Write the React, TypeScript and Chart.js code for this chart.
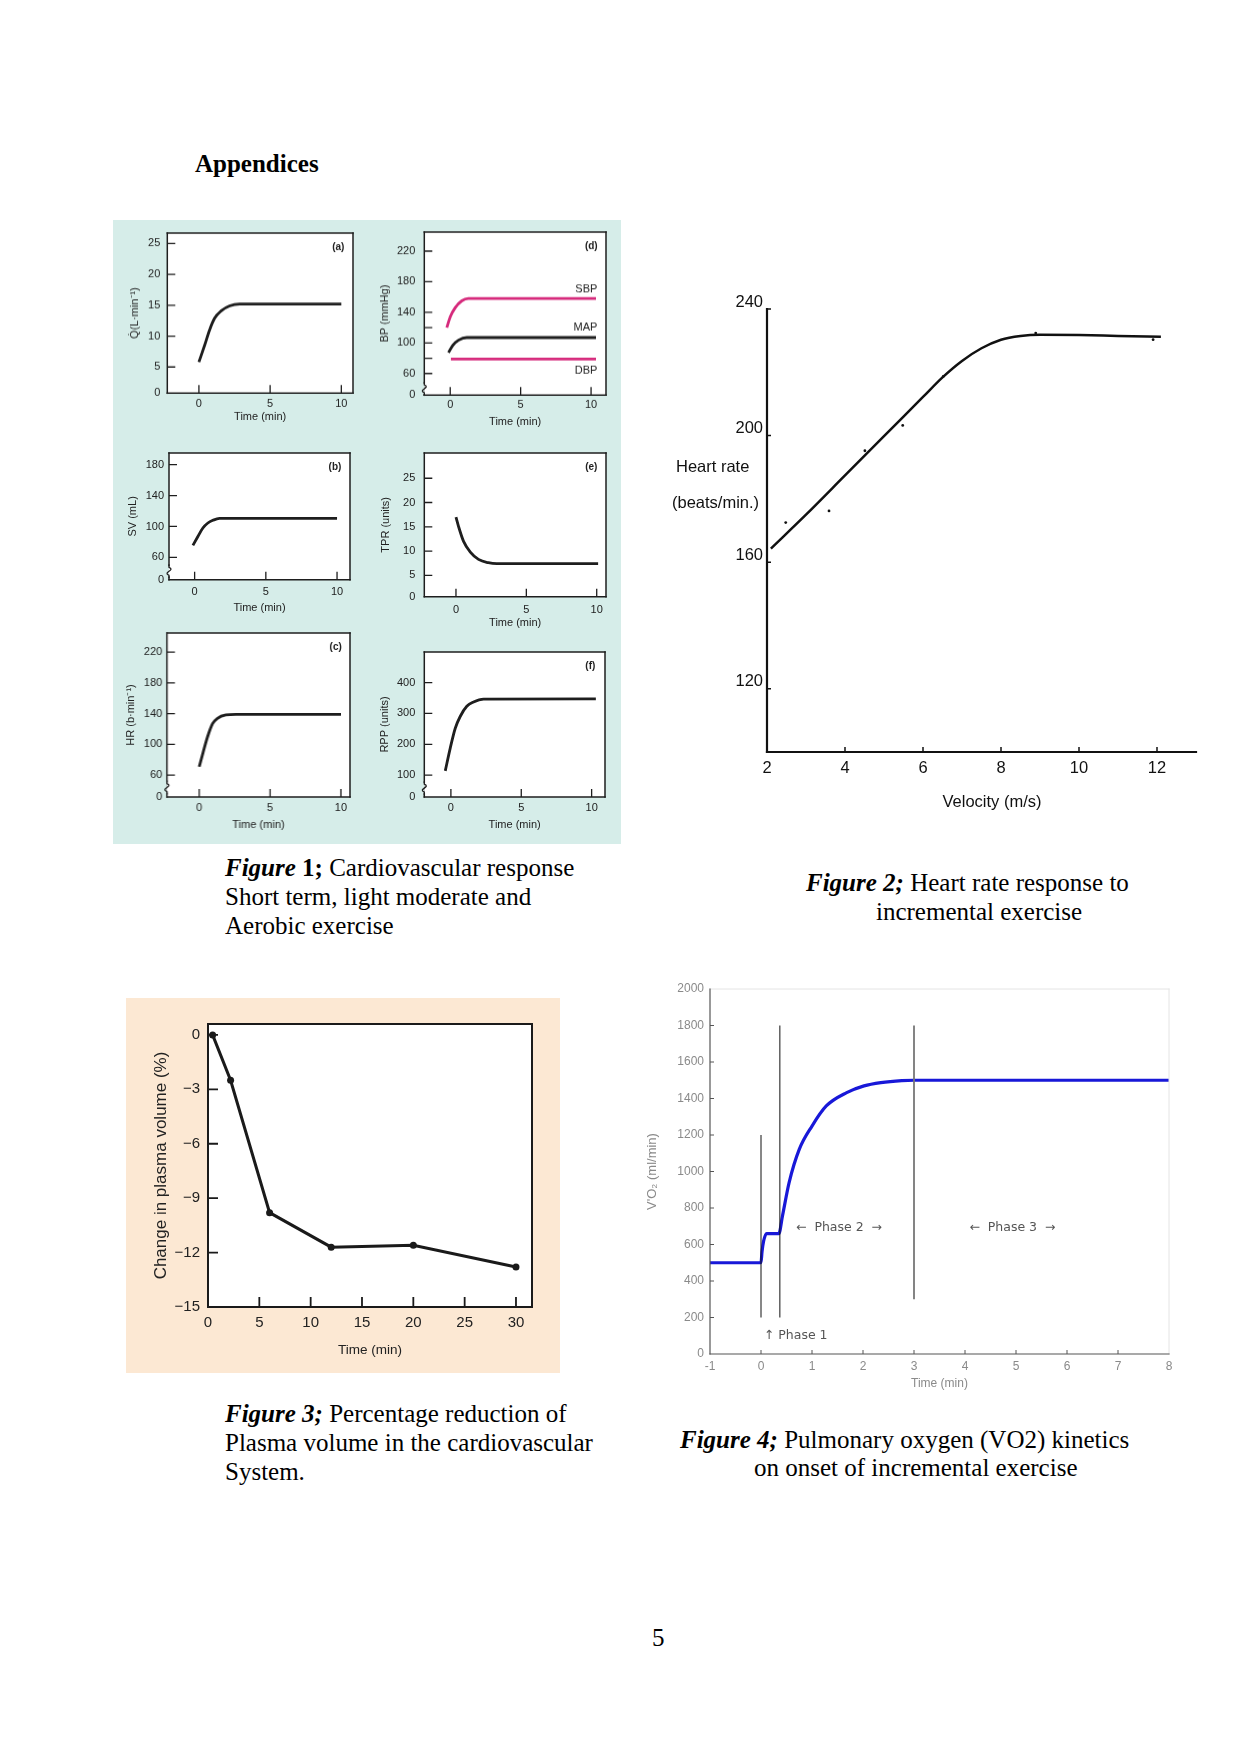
import React, { useEffect, useRef } from "react";
import { Chart, registerables } from "chart.js";
Chart.register(...registerables);

// ================= DATA =================
// Figure 1 (a) cardiac output
const timeA = [0, 0.4, 0.75, 1.1, 1.57, 2.15, 2.86, 10];
const cardiacOutput = [5.8, 8.5, 11, 12.9, 14.1, 14.9, 15.2, 15.2];
// Figure 1 (b) stroke volume
const timeB = [-0.12, 0.23, 0.58, 0.93, 1.28, 1.75, 10];
const strokeVolume = [75.5, 87, 98, 104.5, 108, 110.5, 110.5];
// Figure 1 (c) heart rate
const timeC = [0, 0.28, 0.59, 0.94, 1.29, 1.88, 2.6, 10];
const heartRate = [71, 90, 110, 127, 134, 138.3, 139, 139];
// Figure 1 (d) blood pressure
const timeSBP = [-0.24, 0, 0.35, 0.82, 1.29, 10.35];
const systolicBP = [120, 134, 146, 155, 158, 158];
const timeMAP = [-0.12, 0.19, 0.59, 1.18, 10.35];
const meanAP = [87.4, 97, 103.5, 107, 107];
const timeDBP = [0.05, 10.35];
const diastolicBP = [79, 79];
// Figure 1 (e) total peripheral resistance
const timeE = [0, 0.19, 0.54, 1.02, 1.6, 2.3, 2.9, 10.1];
const peripheralResistance = [17, 15, 12, 9.8, 8.3, 7.6, 7.4, 7.4];
// Figure 1 (f) rate pressure product
const timeF = [-0.4, -0.05, 0.31, 0.66, 1.13, 1.61, 2.32, 10.3];
const ratePressureProduct = [114, 187, 252, 290, 323, 337, 346, 347];

const fig1TimeTicks = [0, 5, 10];
const fig1TimeLabels = ["0", "5", "10"];
const ticksA = [0.76, 5, 10, 15, 20, 25];
const labelsA = ["0", "5", "10", "15", "20", "25"];
const ticksB = [31.1, 60, 100, 140, 180];
const labelsB = ["0", "60", "100", "140", "180"];
const ticksC = [31.7, 60, 100, 140, 180, 220];
const labelsC = ["0", "60", "100", "140", "180", "220"];
const ticksD = [31.7, 60, 100, 140, 180, 220];
const labelsD = ["0", "60", "100", "140", "180", "220"];
const marksD = [60, 80, 100, 120, 140, 180, 220];
const ticksE = [0.6, 5, 10, 15, 20, 25];
const labelsE = ["0", "5", "10", "15", "20", "25"];
const ticksF = [29.3, 100, 200, 300, 400];
const labelsF = ["0", "100", "200", "300", "400"];

// Figure 2 heart rate vs velocity
const velocity = [2.1, 3, 4, 5, 6, 6.5, 7, 7.5, 8, 8.5, 9, 10, 11, 12.1];
const heartRateFit = [164.3, 175, 187.4, 199.8, 212.2, 218.4, 223.6, 227.6, 230.3, 231.5, 231.9, 231.8, 231.5, 231.2];
const velocityObs = [2.48, 3.59, 4.51, 5.48, 6.52, 8.89, 11.9];
const heartRateObs = [172.5, 176.2, 195.2, 203.2, 218.7, 232.4, 230.3];
const fig2VelocityTicks = [2, 4, 6, 8, 10, 12];
const fig2VelocityLabels = ["2", "4", "6", "8", "10", "12"];
const fig2HrTicks = [120, 160, 200, 240];
const fig2HrLabels = ["120", "160", "200", "240"];

// Figure 3 plasma volume
const plasmaTime = [0.45, 2.2, 6, 12, 20, 30];
const plasmaChange = [0, -2.5, -9.8, -11.7, -11.6, -12.8];
const fig3TimeTicks = [0, 5, 10, 15, 20, 25, 30];
const fig3TimeLabels = ["0", "5", "10", "15", "20", "25", "30"];
const fig3ChangeTicks = [0, -3, -6, -9, -12, -15];
const fig3ChangeLabels = ["0", "\u22123", "\u22126", "\u22129", "\u221212", "\u221215"];

// Figure 4 VO2 kinetics
const vo2Time = [-1, 0, 0.02, 0.05, 0.11, 0.35, 0.42, 0.55, 0.75, 1.0, 1.28, 1.68, 2.02, 2.35, 2.76, 3.0, 8];
const vo2 = [500, 500, 560, 617, 660, 660, 755, 938, 1121, 1249, 1359, 1432, 1469, 1487, 1498, 1500, 1500];
const phaseLineX = [0, 0.37, 3];
const phaseLineBottom = [200, 200, 300];
const phaseLineTop = [1200, 1800, 1800];
const phaseLabels = ["\u2191 Phase 1", "\u2190  Phase 2  \u2192", "\u2190  Phase 3  \u2192"];
const phaseLabelX = [0.68, 1.53, 4.93];
const phaseLabelY = [99, 693, 693];
const fig4TimeTicks = [-1, 0, 1, 2, 3, 4, 5, 6, 7, 8];
const fig4TimeLabels = ["-1", "0", "1", "2", "3", "4", "5", "6", "7", "8"];
const fig4Vo2Ticks = [0, 200, 400, 600, 800, 1000, 1200, 1400, 1600, 1800, 2000];
const fig4Vo2Labels = ["0", "200", "400", "600", "800", "1000", "1200", "1400", "1600", "1800", "2000"];

// ================= STYLE =================
const SERIF = '"Liberation Serif", "Times New Roman", Times, serif';
const SANS = '"Liberation Sans", Arial, Helvetica, sans-serif';
const DEJAVU = '"DejaVu Sans", "Liberation Sans", sans-serif';
const TEAL = "#d6ede9";
const PEACH = "#fce8d3";
const INK1 = "#222222";
const PINK = "#d62a7c";

const pts = (xs: number[], ys: number[]) => xs.map((x, i) => ({ x, y: ys[i] }));
const curve = (xs: number[], ys: number[], color: string, width: number) => ({
  data: pts(xs, ys),
  showLine: true,
  borderColor: color,
  borderWidth: width,
  pointRadius: 0,
  cubicInterpolationMode: "monotone",
  fill: false,
});
const cssFont = (f: any) => `${f.weight || "normal"} ${f.size}px ${f.family}`;

// ================= PLUGIN =================
const decorPlugin: any = {
  id: "decor",
  beforeDraw(chart: any, _a: any, o: any) {
    if (!o || !o.plotBg) return;
    const { ctx, chartArea: a } = chart;
    ctx.save();
    ctx.fillStyle = o.plotBg;
    ctx.fillRect(a.left, a.top, a.right - a.left, a.bottom - a.top);
    ctx.restore();
  },
  afterDatasetsDraw(chart: any, _a: any, o: any) {
    if (!o) return;
    const { ctx, chartArea: a, scales } = chart;
    const xs = scales.x;
    const ys = scales.y;
    (o.ticks || []).forEach((t: any) => {
      ctx.save();
      ctx.strokeStyle = t.color;
      ctx.lineWidth = t.width;
      ctx.beginPath();
      t.values.forEach((v: number) => {
        if (t.axis === "y") {
          const p = ys.getPixelForValue(v);
          ctx.moveTo(a.left, p);
          ctx.lineTo(a.left + t.len, p);
        } else {
          const p = xs.getPixelForValue(v);
          ctx.moveTo(p, a.bottom);
          ctx.lineTo(p, a.bottom - t.len);
        }
      });
      ctx.stroke();
      ctx.restore();
    });
    (o.frame || []).forEach((f: any) => {
      ctx.save();
      ctx.strokeStyle = f.color;
      ctx.lineWidth = f.width;
      ctx.lineCap = "square";
      ctx.beginPath();
      const L = a.left, R = a.right, T = a.top, B = a.bottom;
      if (f.side === "left") { ctx.moveTo(L, T); ctx.lineTo(L, B); }
      if (f.side === "right") { ctx.moveTo(R, T); ctx.lineTo(R, B); }
      if (f.side === "top") { ctx.moveTo(L, T); ctx.lineTo(R, T); }
      if (f.side === "bottom") { ctx.moveTo(L, B); ctx.lineTo(R, B); }
      ctx.stroke();
      ctx.restore();
    });
    (o.breaks || []).forEach((b: any) => {
      const p = ys.getPixelForValue(b.value);
      const x = a.left;
      ctx.save();
      ctx.fillStyle = b.outer;
      ctx.fillRect(x - 4, p - 5, 4, 10);
      ctx.fillStyle = b.inner;
      ctx.fillRect(x, p - 5, 3, 10);
      ctx.strokeStyle = b.color;
      ctx.lineWidth = 1.3;
      ctx.beginPath();
      ctx.moveTo(x, p + 7);
      ctx.lineTo(x, p + 4);
      ctx.bezierCurveTo(x - 7, p + 1, x + 7, p - 1, x, p - 4);
      ctx.lineTo(x, p - 7);
      ctx.stroke();
      ctx.restore();
    });
    (o.texts || []).forEach((t: any) => {
      const x = t.dx !== undefined ? xs.getPixelForValue(t.dx) : t.x;
      const y = t.dy !== undefined ? ys.getPixelForValue(t.dy) : t.y;
      ctx.save();
      ctx.font = cssFont(t.font);
      ctx.fillStyle = t.color;
      ctx.textAlign = t.align || "center";
      ctx.textBaseline = "middle";
      ctx.fillText(t.text, x, y);
      ctx.restore();
    });
  },
};

// ================= BUILDER =================
function geometry(spec: any) {
  const cl = spec.plot.l - spec.m.l;
  const ct = spec.plot.t - spec.m.t;
  const w = spec.plot.r - spec.plot.l + spec.m.l + spec.m.r;
  const h = spec.plot.b - spec.plot.t + spec.m.t + spec.m.b;
  return { cl, ct, w, h };
}

function buildConfig(spec: any, g: any) {
  const axis = (a: any, isX: boolean) => {
    const lh = a.title ? a.title.font.size * 1.2 : 0;
    return {
      type: "linear",
      min: a.min,
      max: a.max,
      afterBuildTicks: (s: any) => {
        s.ticks = a.ticks.map((v: number) => ({ value: v }));
      },
      afterFit: (s: any) => {
        if (isX) {
          s.height = spec.m.b;
          s.paddingLeft = 0;
          s.paddingRight = 0;
        } else {
          s.width = spec.m.l;
          s.paddingTop = 0;
          s.paddingBottom = 0;
        }
      },
      grid: { display: false, drawTicks: false },
      border: { display: false },
      ticks: {
        autoSkip: false,
        maxRotation: 0,
        minRotation: 0,
        padding: a.pad,
        labelOffset: a.labelOffset || 0,
        font: a.font,
        color: a.color,
        callback: (_v: any, i: number) => a.labels[i],
      },
      title: a.title
        ? {
            display: true,
            text: a.title.text,
            font: a.title.font,
            color: a.title.color,
            padding: isX
              ? { top: 0, bottom: g.ct + g.h - a.title.pos - lh / 2 }
              : { top: a.title.pos - g.cl - lh / 2, bottom: 0 },
          }
        : { display: false },
    };
  };
  const d = spec.decor || {};
  const texts = (d.texts || []).map((t: any) => ({
    ...t,
    x: t.px !== undefined ? t.px - g.cl : t.x,
    y: t.py !== undefined ? t.py - g.ct : t.y,
  }));
  return {
    type: "scatter",
    data: { datasets: spec.datasets },
    options: {
      responsive: false,
      maintainAspectRatio: false,
      animation: false,
      events: [],
      layout: { padding: { left: 0, top: spec.m.t, right: spec.m.r, bottom: 0 } },
      plugins: {
        legend: { display: false },
        tooltip: { enabled: false },
        decor: { ...d, texts },
      },
      scales: { x: axis(spec.x, true), y: axis(spec.y, false) },
    },
    plugins: [decorPlugin],
  };
}

function ChartCanvas({ spec }: { spec: any }) {
  const ref = useRef<HTMLCanvasElement>(null);
  const g = geometry(spec);
  useEffect(() => {
    const chart = new Chart(ref.current as HTMLCanvasElement, buildConfig(spec, g) as any);
    return () => chart.destroy();
  }, []);
  return (
    <canvas
      ref={ref}
      width={g.w}
      height={g.h}
      style={{ position: "absolute", left: g.cl, top: g.ct, width: g.w, height: g.h }}
    />
  );
}

// ================= FIGURE 1 PANELS =================
const f1Font = { family: SANS, size: 11 };
const f1Bold = { family: SANS, size: 10, weight: "bold" };

function fig1Panel(p: any) {
  const m = { l: p.plot.l - (p.yTitleX - 9), t: 4, r: 4, b: p.xTitleY + 9 - p.plot.b };
  const texts = [{ text: p.label, px: p.plot.r - 15, py: p.plot.t + 14, font: f1Bold, color: INK1 }].concat(p.texts || []);
  return {
    plot: p.plot,
    m,
    x: {
      min: p.xMin, max: p.xMax, ticks: fig1TimeTicks, labels: fig1TimeLabels,
      font: f1Font, color: INK1, pad: p.xLabelY - p.plot.b - 6.6,
      title: { text: "Time (min)", font: f1Font, color: INK1, pos: p.xTitleY },
    },
    y: {
      min: p.yMin, max: p.yMax, ticks: p.yTicks, labels: p.yLabels,
      font: f1Font, color: INK1, pad: p.yPad,
      title: { text: p.yTitle, font: f1Font, color: INK1, pos: p.yTitleX },
    },
    datasets: p.datasets,
    decor: {
      plotBg: "#ffffff",
      frame: ["left", "right", "top", "bottom"].map((side) => ({ side, color: "#1e1e1e", width: 1.5 })),
      ticks: [
        { axis: "y", values: p.marks, len: 8, color: "#1e1e1e", width: 1.3 },
        { axis: "x", values: fig1TimeTicks, len: 8, color: "#1e1e1e", width: 1.3 },
      ],
      breaks: p.breakAt !== undefined ? [{ value: p.breakAt, outer: TEAL, inner: "#ffffff", color: "#1e1e1e" }] : [],
      texts,
    },
  };
}

const panelA = fig1Panel({
  plot: { l: 167, t: 233, r: 353, b: 393 }, xMin: -2.22, xMax: 10.82, yMin: 0.76, yMax: 26.7,
  yTicks: ticksA, yLabels: labelsA, marks: [5, 10, 15, 20, 25], yPad: 7,
  xLabelY: 403.3, xTitleY: 416.7, yTitleX: 134.7, yTitle: "Q\u0307(L\u00b7min\u207b\u00b9)", label: "(a)",
  datasets: [curve(timeA, cardiacOutput, "#1e1e1e", 2.8)],
});
const panelD = fig1Panel({
  plot: { l: 424, t: 232, r: 606, b: 395 }, xMin: -1.84, xMax: 11.06, yMin: 31.7, yMax: 245,
  yTicks: ticksD, yLabels: labelsD, marks: marksD, yPad: 9,
  xLabelY: 405, xTitleY: 421.7, yTitleX: 384.7, yTitle: "BP (mmHg)", label: "(d)", breakAt: 40,
  datasets: [
    curve(timeSBP, systolicBP, PINK, 2.8),
    curve(timeMAP, meanAP, "#1e1e1e", 2.8),
    curve(timeDBP, diastolicBP, PINK, 2.8),
  ],
  texts: [
    { text: "SBP", px: 597, py: 289, font: f1Font, color: INK1, align: "right" },
    { text: "MAP", px: 597, py: 327, font: f1Font, color: INK1, align: "right" },
    { text: "DBP", px: 597, py: 370, font: f1Font, color: INK1, align: "right" },
  ],
});
const panelB = fig1Panel({
  plot: { l: 169, t: 453, r: 350, b: 580 }, xMin: -1.8, xMax: 10.91, yMin: 31.1, yMax: 195.1,
  yTicks: ticksB, yLabels: labelsB, marks: [60, 100, 140, 180], yPad: 5,
  xLabelY: 592.3, xTitleY: 608.3, yTitleX: 133, yTitle: "SV (mL)", label: "(b)", breakAt: 42,
  datasets: [curve(timeB, strokeVolume, "#1e1e1e", 2.8)],
});
const panelE = fig1Panel({
  plot: { l: 424, t: 453, r: 606, b: 597 }, xMin: -2.25, xMax: 10.66, yMin: 0.6, yMax: 30.2,
  yTicks: ticksE, yLabels: labelsE, marks: [5, 10, 15, 20, 25], yPad: 9,
  xLabelY: 610, xTitleY: 623.3, yTitleX: 385.7, yTitle: "TPR (units)", label: "(e)",
  datasets: [curve(timeE, peripheralResistance, "#1e1e1e", 2.8)],
});
const panelC = fig1Panel({
  plot: { l: 167, t: 633, r: 350, b: 797 }, xMin: -2.28, xMax: 10.64, yMin: 31.7, yMax: 244.8,
  yTicks: ticksC, yLabels: labelsC, marks: [60, 100, 140, 180, 220], yPad: 4.5,
  xLabelY: 808.3, xTitleY: 825, yTitleX: 131.3, yTitle: "HR (b\u00b7min\u207b\u00b9)", label: "(c)", breakAt: 44,
  datasets: [curve(timeC, heartRate, "#1e1e1e", 2.8)],
});
const panelF = fig1Panel({
  plot: { l: 424, t: 652, r: 605, b: 797 }, xMin: -1.89, xMax: 10.95, yMin: 29.3, yMax: 498.9,
  yTicks: ticksF, yLabels: labelsF, marks: [100, 200, 300, 400], yPad: 9,
  xLabelY: 808.3, xTitleY: 825, yTitleX: 384.7, yTitle: "RPP (units)", label: "(f)", breakAt: 58,
  datasets: [curve(timeF, ratePressureProduct, "#1e1e1e", 2.8)],
});

// ================= FIGURE 2 =================
const f2Font = { family: SANS, size: 16.5 };
const fig2 = {
  plot: { l: 767, t: 309, r: 1196, b: 752 },
  m: { l: 107, t: 24, r: 10, b: 73 },
  x: { min: 2, max: 13, ticks: fig2VelocityTicks, labels: fig2VelocityLabels, font: f2Font, color: "#111", pad: 7 },
  y: { min: 100, max: 240, ticks: fig2HrTicks, labels: fig2HrLabels, font: f2Font, color: "#111", pad: 4, labelOffset: -7 },
  datasets: [
    curve(velocity, heartRateFit, "#111", 2.5),
    { data: pts(velocityObs, heartRateObs), showLine: false, pointRadius: 1.4, pointBorderWidth: 0, pointBackgroundColor: "#111" },
  ],
  decor: {
    frame: [
      { side: "left", color: "#111", width: 2.2 },
      { side: "bottom", color: "#111", width: 2.2 },
    ],
    ticks: [
      { axis: "y", values: fig2HrTicks, len: 4, color: "#111", width: 1.5 },
      { axis: "x", values: [4, 6, 8, 10, 12], len: 5, color: "#111", width: 1.5 },
    ],
    texts: [
      { text: "Heart rate", px: 676, py: 467, font: f2Font, color: "#111", align: "left" },
      { text: "(beats/min.)", px: 672, py: 503, font: f2Font, color: "#111", align: "left" },
      { text: "Velocity (m/s)", px: 992, py: 802, font: f2Font, color: "#111", align: "center" },
    ],
  },
};

// ================= FIGURE 3 =================
const f3Tick = { family: SANS, size: 15 };
const fig3 = {
  plot: { l: 208, t: 1024, r: 532, b: 1307 },
  m: { l: 63, t: 10, r: 10, b: 59 },
  x: {
    min: 0, max: 31.56, ticks: fig3TimeTicks, labels: fig3TimeLabels, font: f3Tick, color: "#222", pad: 7.3,
    title: { text: "Time (min)", font: { family: SANS, size: 13.5 }, color: "#222", pos: 1350 },
  },
  y: {
    min: -15, max: 0.6, ticks: fig3ChangeTicks, labels: fig3ChangeLabels, font: f3Tick, color: "#222", pad: 8,
    title: { text: "Change in plasma volume (%)", font: { family: SANS, size: 17 }, color: "#222", pos: 161.7 },
  },
  datasets: [
    {
      data: pts(plasmaTime, plasmaChange), showLine: true, borderColor: "#1a1a1a", borderWidth: 3,
      pointRadius: 3.5, pointBorderWidth: 0, pointBackgroundColor: "#1a1a1a", tension: 0,
    },
  ],
  decor: {
    plotBg: "#ffffff",
    frame: ["left", "right", "top", "bottom"].map((side) => ({ side, color: "#1a1a1a", width: 2 })),
    ticks: [
      { axis: "y", values: [0, -3, -6, -9, -12], len: 10, color: "#1a1a1a", width: 1.8 },
      { axis: "x", values: [5, 10, 15, 20, 25, 30], len: 10, color: "#1a1a1a", width: 1.8 },
    ],
  },
};

// ================= FIGURE 4 =================
const f4Font = { family: SANS, size: 12 };
const GRAY = "#8a8a8a";
const fig4 = {
  plot: { l: 710, t: 989, r: 1169, b: 1354 },
  m: { l: 70, t: 12, r: 14, b: 46 },
  x: {
    min: -1, max: 8, ticks: fig4TimeTicks, labels: fig4TimeLabels, font: f4Font, color: GRAY, pad: 5.4,
    title: { text: "Time (min)", font: f4Font, color: GRAY, pos: 1384 },
  },
  y: {
    min: 0, max: 2000, ticks: fig4Vo2Ticks, labels: fig4Vo2Labels, font: f4Font, color: GRAY, pad: 6,
    title: { text: "V'O\u2082 (ml/min)", font: { family: SANS, size: 13 }, color: GRAY, pos: 652 },
  },
  datasets: [
    ...phaseLineX.map((x, i) => ({
      data: [{ x, y: phaseLineBottom[i] }, { x, y: phaseLineTop[i] }],
      showLine: true, pointRadius: 0,
      borderColor: i === 2 ? "#777" : "#111", borderWidth: i === 2 ? 1.8 : 1,
    })),
    curve(vo2Time, vo2, "#1818d8", 3.2),
  ],
  decor: {
    frame: [
      { side: "top", color: "#e4e4e4", width: 1 },
      { side: "right", color: "#e4e4e4", width: 1 },
      { side: "left", color: "#555", width: 1.2 },
      { side: "bottom", color: "#555", width: 1.2 },
    ],
    ticks: [
      { axis: "y", values: fig4Vo2Ticks.slice(1, 10), len: 4, color: "#555", width: 1 },
      { axis: "x", values: fig4TimeTicks.slice(1, 9), len: 4, color: "#555", width: 1 },
    ],
    texts: phaseLabels.map((text, i) => ({
      text, dx: phaseLabelX[i], dy: phaseLabelY[i], font: { family: DEJAVU, size: 12.5 }, color: "#555",
    })),
  },
};

const specs = [panelA, panelD, panelB, panelE, panelC, panelF, fig2, fig3, fig4];

// ================= PAGE =================
const textBase: any = {
  position: "absolute",
  fontFamily: SERIF,
  fontSize: 25,
  lineHeight: "28.75px",
  whiteSpace: "nowrap",
  color: "#000",
};
const FigLabel = ({ n, upright }: { n: string; upright?: boolean }) =>
  upright ? (
    <span>
      <b>
        <i>Figure</i> {n};
      </b>
    </span>
  ) : (
    <b>
      <i>Figure {n};</i>
    </b>
  );

export default function App() {
  useEffect(() => {
    document.body.style.margin = "0";
  }, []);
  return (
    <div style={{ position: "absolute", left: 0, top: 0, width: 1241, height: 1754, background: "#fff", overflow: "hidden" }}>
      <div style={{ ...textBase, left: 195, top: 150, fontWeight: "bold" }}>Appendices</div>
      <div style={{ position: "absolute", left: 113, top: 220, width: 508, height: 624, background: TEAL }} />
      <div style={{ position: "absolute", left: 126, top: 998, width: 434, height: 375, background: PEACH }} />
      {specs.map((s, i) => (
        <ChartCanvas key={i} spec={s} />
      ))}
      <div style={{ ...textBase, left: 225, top: 854 }}>
        <FigLabel n="1" upright /> Cardiovascular response
        <br />
        Short term, light moderate and
        <br />
        Aerobic exercise
      </div>
      <div style={{ ...textBase, left: 806, top: 868.5 }}>
        <FigLabel n="2" /> Heart rate response to
      </div>
      <div style={{ ...textBase, left: 876, top: 897.5 }}>incremental exercise</div>
      <div style={{ ...textBase, left: 225, top: 1400 }}>
        <FigLabel n="3" /> Percentage reduction of
        <br />
        Plasma volume in the cardiovascular
        <br />
        System.
      </div>
      <div style={{ ...textBase, left: 680, top: 1426 }}>
        <FigLabel n="4" /> Pulmonary oxygen (VO2) kinetics
      </div>
      <div style={{ ...textBase, left: 754, top: 1454 }}>on onset of incremental exercise</div>
      <div style={{ ...textBase, left: 652, top: 1624 }}>5</div>
    </div>
  );
}
